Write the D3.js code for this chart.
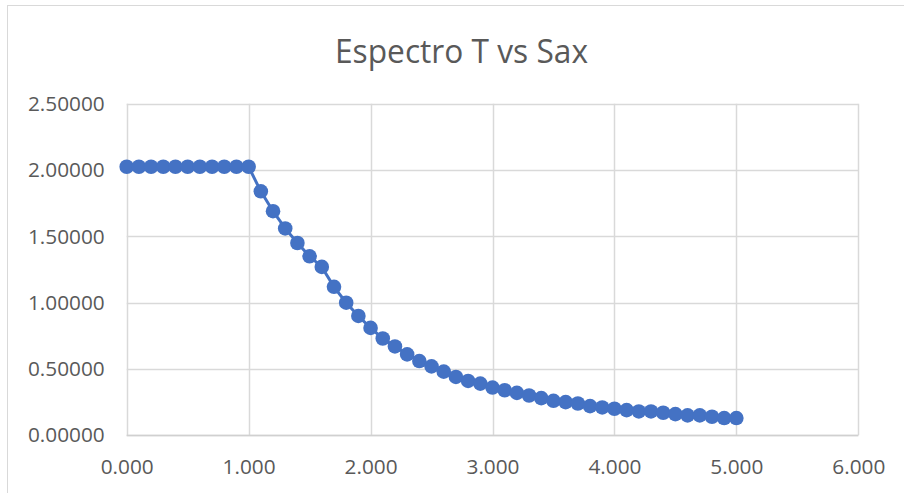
<!DOCTYPE html>
<html><head><meta charset="utf-8">
<script src="https://cdn.jsdelivr.net/npm/d3@7"></script>
<style>body{margin:0;background:#fff;} svg{display:block;}</style>
</head><body>
<svg id="c" width="904" height="493"></svg>
<script>
const title = "Espectro T vs Sax";
const periods = [0.0,0.1,0.2,0.3,0.4,0.5,0.6,0.7,0.8,0.9,1.0,1.1,1.2,1.3,1.4,1.5,1.6,1.7,1.8,1.9,2.0,2.1,2.2,2.3,2.4,2.5,2.6,2.7,2.8,2.9,3.0,3.1,3.2,3.3,3.4,3.5,3.6,3.7,3.8,3.9,4.0,4.1,4.2,4.3,4.4,4.5,4.6,4.7,4.8,4.9,5.0];
const sax = [2.025,2.025,2.025,2.025,2.025,2.025,2.025,2.025,2.025,2.025,2.025,1.84,1.69,1.56,1.45,1.35,1.27,1.12,1.00,0.90,0.81,0.73,0.67,0.61,0.56,0.52,0.48,0.44,0.41,0.39,0.36,0.34,0.32,0.30,0.28,0.26,0.25,0.24,0.22,0.21,0.20,0.19,0.18,0.18,0.17,0.16,0.15,0.15,0.14,0.13,0.13];
const xTicks = [0,1,2,3,4,5,6];
const yTicks = [0,0.5,1.0,1.5,2.0,2.5];

const svg = d3.select("#c");
const font = "'Open Sans', sans-serif";
const txt = "#595959";
const grid = "#d9d9d9";

// chart area border
svg.append("rect").attr("x",7.5).attr("y",5.5).attr("width",1000).attr("height",1000)
  .attr("fill","#fff").attr("stroke","#d9d9d9").attr("stroke-width",1);

const L=126.7, R=858.3, T=103.8, B=435.3;
const x = d3.scaleLinear().domain([0,6]).range([L,R]);
const y = d3.scaleLinear().domain([0,2.5]).range([B,T]);

svg.append("text").attr("x",461.5).attr("y",63).attr("text-anchor","middle")
  .attr("font-family",font).attr("font-size",33).attr("fill",txt)
  .attr("textLength",253).attr("lengthAdjust","spacingAndGlyphs").text(title);

// gridlines
svg.append("g").selectAll("line").data(yTicks).join("line")
  .attr("x1",L).attr("x2",R).attr("y1",d=>Math.round(y(d))+0.5).attr("y2",d=>Math.round(y(d))+0.5)
  .attr("stroke",grid).attr("stroke-width",1.5);
svg.append("g").selectAll("line").data(xTicks).join("line")
  .attr("y1",T).attr("y2",B).attr("x1",d=>Math.round(x(d))+0.5).attr("x2",d=>Math.round(x(d))+0.5)
  .attr("stroke",grid).attr("stroke-width",1.5);

// axes labels via d3 axes
const xAxis = svg.append("g").attr("transform",`translate(0,${B})`)
  .call(d3.axisBottom(x).tickValues(xTicks).tickFormat(d3.format(".3f")).tickSize(0).tickPadding(24));
const yAxis = svg.append("g").attr("transform",`translate(${L},0)`)
  .call(d3.axisLeft(y).tickValues(yTicks).tickFormat(d3.format(".5f")).tickSize(0).tickPadding(22));
[xAxis,yAxis].forEach(g=>{
  g.select(".domain").remove();
  g.selectAll("text").attr("font-family",font).attr("font-size",20.8).attr("fill",txt);
});
// bottom axis line slightly darker
svg.append("line").attr("x1",L).attr("x2",R).attr("y1",Math.round(B)+0.5).attr("y2",Math.round(B)+0.5)
  .attr("stroke","#d0d0d0").attr("stroke-width",1.5);

const pts = periods.map((p,i)=>[p,sax[i]]);
svg.append("path").datum(pts)
  .attr("d",d3.line().x(d=>x(d[0])).y(d=>y(d[1])))
  .attr("fill","none").attr("stroke","#4472c4").attr("stroke-width",3);
svg.append("g").selectAll("circle").data(pts).join("circle")
  .attr("cx",d=>x(d[0])).attr("cy",d=>y(d[1])).attr("r",7.3).attr("fill","#4472c4");
</script>
</body></html>
